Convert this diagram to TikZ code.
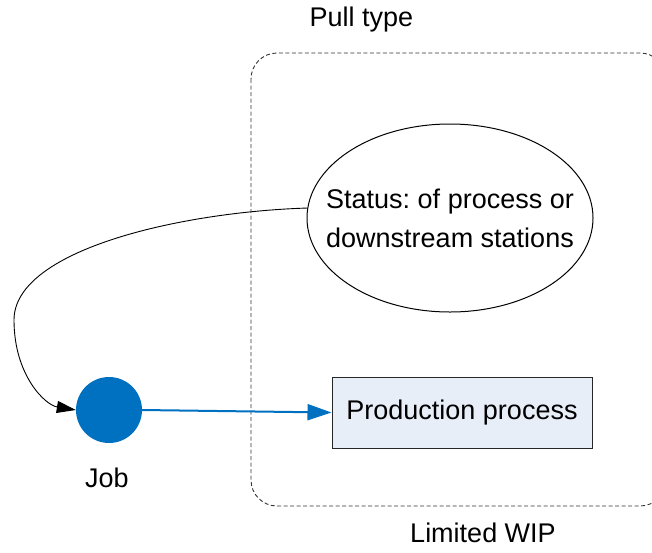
\documentclass[tikz,border=0pt]{standalone}
\usepackage{fontspec}
\setmainfont{Liberation Sans}
\usetikzlibrary{arrows.meta,shapes.geometric}
\definecolor{jobblue}{RGB}{0,112,192}
\definecolor{boxfill}{RGB}{232,238,248}
\frenchspacing
\tikzset{
  lbl/.style={font=\fontsize{27}{38}\selectfont, inner sep=0pt},
  region/.style={draw=black!80, line width=0.9pt, dash pattern=on 4pt off 2.5pt, rounded corners=26pt},
  statusell/.style={ellipse, draw, line width=1pt, minimum width=286pt, minimum height=188pt, inner sep=0pt},
  statustxt/.style={align=center, inner sep=0pt, font=\fontsize{27}{39}\selectfont},
  procbox/.style={rectangle, draw=black!85, line width=1pt, fill=boxfill, minimum width=260pt, minimum height=71pt, inner sep=0pt, font=\fontsize{27}{38}\selectfont},
  jobdot/.style={circle, fill=jobblue, minimum size=66pt, inner sep=0pt},
  feedback/.style={line width=0.9pt, -{Triangle[length=19pt,width=12pt]}},
  flow/.style={draw=jobblue, line width=2pt, -{Triangle[length=24pt,width=16pt]}}
}
\begin{document}
\begin{tikzpicture}[x=1pt,y=-1pt]
  \useasboundingbox (0,0) rectangle (652,552);
  \begin{scope}
    \clip (0,0) rectangle (652,552);
    \draw[region] (251,53) rectangle (666,506);
  \end{scope}
  \node[lbl] (pull) at (361.5,20) {Pull type};
  \node[lbl] (wip) at (483,533) {Limited WIP};
  \node[statusell] (status) at (450,218) {};
  \node[statustxt] (statuslbl) at (status.center) {Status: of process or\\downstream stations};
  \node[procbox] (proc) at (462,412.5) {Production process};
  \node[jobdot] (job) at (109,410) {};
  \node[lbl] (joblbl) at (107,478) {Job};
  \draw[feedback] (status.176) .. controls (180,212) and (14,250) .. (14,320)
    .. controls (14,375) and (45,405) .. (job.west);
  \draw[flow] (job.east) -- (proc.west);
\end{tikzpicture}
\end{document}
